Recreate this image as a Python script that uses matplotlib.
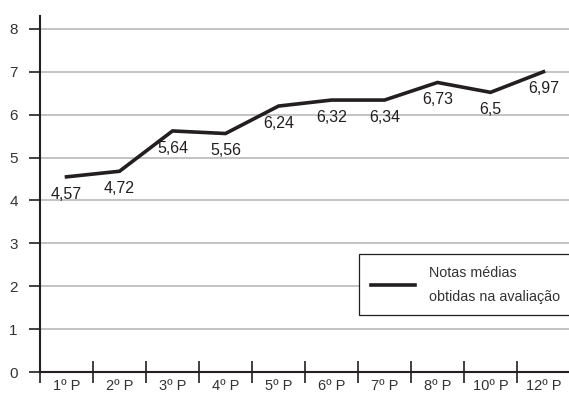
import matplotlib.pyplot as plt
import numpy as np

periodos = ['1º P', '2º P', '3º P', '4º P', '5º P', '6º P', '7º P', '8º P', '10º P', '12º P']
notas = [4.57, 4.72, 5.64, 5.56, 6.24, 6.32, 6.34, 6.73, 6.5, 6.97]
# posicao grafica da linha (ligeiramente diferente do rotulo no original)
linha = [4.55, 4.68, 5.62, 5.56, 6.2, 6.34, 6.34, 6.75, 6.52, 7.0]
yticks = [0, 1, 2, 3, 4, 5, 6, 7, 8]

plt.rcParams['font.family'] = ['Liberation Sans', 'DejaVu Sans']
cor = '#231f20'

fig = plt.figure(figsize=(5.69, 3.99), dpi=100)
ax = fig.add_axes([40/569, 27/399, 530/569, 356/399])

x = np.arange(len(periodos))
ax.plot(x, linha, color=cor, lw=2.6, solid_joinstyle='miter',
        label='Notas médias\nobtidas na avaliação')
for xi, yi, v in zip(x, linha, notas):
    txt = ('%g' % v).replace('.', ',')
    ax.annotate(txt, (xi, yi), xytext=(0, -7), textcoords='offset points',
                ha='center', va='top', fontsize=11.5, color=cor)

ax.set_xlim(-0.5, len(periodos) - 0.5)
ax.set_ylim(0, 8.3)
ax.set_yticks(yticks)
ax.yaxis.grid(True, color='#b3b3b3', lw=1.1)
ax.set_axisbelow(True)
ax.tick_params(axis='y', direction='out', length=8, width=1.2, color=cor,
               labelsize=11, labelcolor='#333333', pad=8)

ax.set_xticks(np.arange(len(periodos) + 1) - 0.5)
ax.set_xticklabels([])
ax.tick_params(axis='x', which='major', direction='inout', length=16, width=1.2, color=cor)
ax.set_xticks(x, minor=True)
ax.set_xticklabels(periodos, minor=True)
ax.tick_params(axis='x', which='minor', length=0, labelsize=10.5, labelcolor='#333333', pad=5)

for s in ['top', 'right']:
    ax.spines[s].set_visible(False)
for s in ['left', 'bottom']:
    ax.spines[s].set_color(cor)
    ax.spines[s].set_linewidth(1.5)
ax.spines['left'].set_bounds(0, 8.3)
ax.spines['bottom'].set_clip_on(False)

leg = ax.legend(loc='lower left', bbox_to_anchor=(0.602, 0.16), borderaxespad=0,
                fontsize=10.3, handlelength=3.1, handletextpad=1.0, borderpad=0.8,
                fancybox=False, framealpha=1, edgecolor=cor, labelspacing=0.8)
leg.get_frame().set_linewidth(0.9)
for t in leg.get_texts():
    t.set_color('#333333')
    t.set_linespacing(1.9)

fig.savefig('out.png', dpi=100)
